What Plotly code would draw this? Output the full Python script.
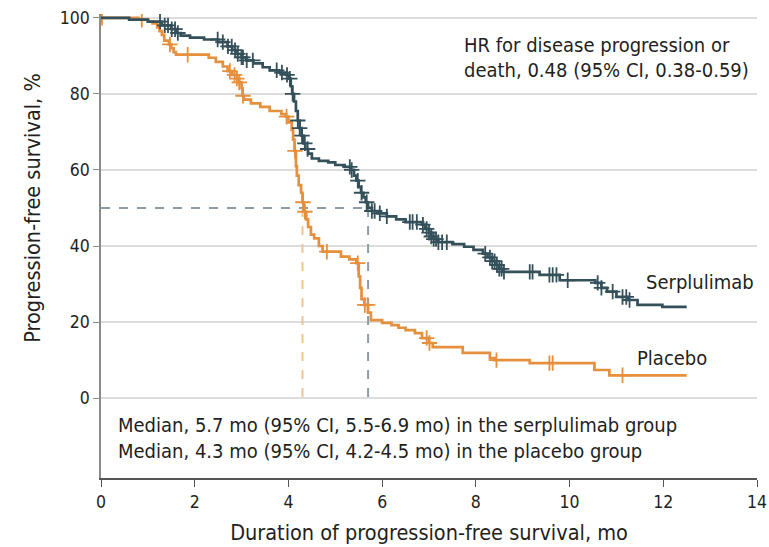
import numpy as np
import plotly.graph_objects as go

# Kaplan-Meier step points (time in months, progression-free survival in %)
serp_time = [0, 0.6, 1.0, 1.3, 1.5, 1.6, 1.7, 1.9, 2.2, 2.5, 2.7, 2.8, 2.9, 3.0, 3.1,
             3.25, 3.45, 3.6, 3.8, 3.95, 4.02, 4.05, 4.08, 4.12, 4.16, 4.2, 4.24, 4.28,
             4.32, 4.36, 4.42, 4.5, 4.65, 4.85, 5.0, 5.2, 5.33, 5.4, 5.45, 5.5, 5.55,
             5.6, 5.65, 5.7, 5.78, 5.9, 6.1, 6.3, 6.5, 6.85, 6.92, 7.0, 7.05, 7.1, 7.2,
             7.5, 7.75, 7.95, 8.15, 8.25, 8.35, 8.42, 8.5, 8.57, 9.36, 9.79, 10.55,
             10.68, 10.8, 11.0, 11.25, 11.45, 11.98, 12.5]
serp_surv = [100, 99.5, 99, 98, 97, 96, 95.3, 94.8, 94.3, 93.6, 92.5, 91.5, 90.5, 89.6, 88.8,
             88, 87, 86.2, 85.6, 85, 84, 82, 80, 78, 75.5, 73, 71, 69,
             67, 65.5, 64.3, 63, 62.4, 62, 61.3, 60.8, 60, 58.5, 57.2, 55.5, 54,
             52.8, 51.5, 50, 49.2, 48.6, 47.8, 47, 46.3, 45.6, 44.5, 43.5, 42.5, 41.8, 41,
             40.5, 39.8, 39, 38, 37, 36, 35, 34, 33.2, 32.4, 31, 30.3,
             29, 28, 26.6, 25.8, 24.5, 24, 24]

plac_time = [0, 0.8, 1.0, 1.1, 1.2, 1.25, 1.3, 1.35, 1.45, 1.5, 1.55, 1.6, 2.3, 2.45, 2.6,
             2.7, 2.8, 2.9, 2.95, 3.0, 3.02, 3.05, 3.2, 3.4, 3.6, 3.85, 3.95, 4.0, 4.07,
             4.1, 4.13, 4.16, 4.18, 4.22, 4.27, 4.3, 4.33, 4.38, 4.42, 4.48, 4.55, 4.65,
             4.73, 5.12, 5.3, 5.45, 5.5, 5.53, 5.56, 5.62, 5.7, 5.76, 6.0, 6.2, 6.35, 6.5,
             6.7, 6.85, 7.0, 7.08, 7.72, 8.3, 8.4, 9.15, 10.53, 10.85, 12.5]
plac_surv = [100, 99.5, 99, 98.5, 97.5, 96.5, 95.5, 94, 93, 92, 91, 90.3, 89.5, 88.4, 87.2,
             86, 85, 84, 83, 81.5, 79.5, 78.5, 77.5, 76.6, 75.5, 74.7, 74, 72.5, 70.5,
             68, 65, 61, 58.5, 56, 54, 51.5, 49, 47, 45, 43, 42, 40,
             38.5, 37.2, 36.5, 35.5, 32, 29, 26, 24.5, 22.5, 20.5, 19.8, 19.2, 18.5, 17.9,
             17.1, 15.8, 14.5, 13.4, 11.9, 10.5, 10, 9.2, 7.4, 6, 6]

# Censoring times
serp_censor = [1.26, 1.36, 1.43, 1.51, 1.58, 1.64, 2.49, 2.6, 2.71, 2.79, 2.86, 2.92, 3.0,
               3.03, 3.11, 3.24, 3.75, 3.86, 3.97, 4.03, 4.09, 4.2, 4.24, 4.29, 4.35, 4.41,
               5.31, 5.35, 5.48, 5.56, 5.67, 5.78, 5.84, 5.95, 6.1, 6.59, 6.65, 6.74, 6.87,
               6.95, 7.0, 7.05, 7.1, 7.15, 7.2, 7.28, 7.38, 8.2, 8.3, 8.35, 8.4, 8.45, 8.5,
               8.55, 8.6, 9.15, 9.21, 9.57, 9.64, 9.72, 9.96, 10.6, 10.68, 10.92, 11.13,
               11.21, 11.28]
plac_censor = [0.02, 0.87, 1.47, 1.85, 2.75, 2.85, 2.9, 2.95, 3.03, 3.96, 4.14, 4.31, 4.35,
               4.82, 5.48, 5.63, 5.69, 6.95, 7.01, 8.44, 9.57, 9.64, 11.13]

serp_median = 5.7
plac_median = 4.3

SERP_COLOR = "#34505A"
PLAC_COLOR = "#E68F3C"
FONT = "DejaVu Sans Condensed, Liberation Sans Narrow, Roboto, sans-serif"
TEXT_COLOR = "#231F20"


def surv_at(times, surv, t):
    idx = np.searchsorted(np.asarray(times), np.asarray(t), side="right") - 1
    return list(np.asarray(surv)[idx])


fig = go.Figure()

# median reference lines
fig.add_trace(go.Scatter(x=[0, serp_median], y=[50, 50], mode="lines",
                         line=dict(color="#8D9DA6", width=2, dash="dash"),
                         hoverinfo="skip", showlegend=False))
fig.add_trace(go.Scatter(x=[serp_median, serp_median], y=[50, 0], mode="lines",
                         line=dict(color="#8D9DA6", width=2, dash="dash"),
                         hoverinfo="skip", showlegend=False))
fig.add_trace(go.Scatter(x=[plac_median, plac_median], y=[50, 0], mode="lines",
                         line=dict(color="#F3C48F", width=2, dash="dash"),
                         hoverinfo="skip", showlegend=False))

for times, surv, cens, color, name in [
    (plac_time, plac_surv, plac_censor, PLAC_COLOR, "Placebo"),
    (serp_time, serp_surv, serp_censor, SERP_COLOR, "Serplulimab"),
]:
    fig.add_trace(go.Scatter(x=times, y=surv, mode="lines", line_shape="hv",
                             line=dict(color=color, width=2.7), name=name,
                             showlegend=False))
    fig.add_trace(go.Scatter(x=cens, y=surv_at(times, surv, cens), mode="markers",
                             marker=dict(symbol="cross-thin", size=11,
                                         line=dict(width=1.8, color=color)),
                             showlegend=False, hoverinfo="skip"))

annotations = [
    dict(x=7.7, y=92.9, text="HR for disease progression or", xanchor="left"),
    dict(x=7.7, y=86.3, text="death, 0.48 (95% CI, 0.38-0.59)", xanchor="left"),
    dict(x=0.32, y=-7.1, text="Median, 5.7 mo (95% CI, 5.5-6.9 mo) in the serplulimab group",
         xanchor="left"),
    dict(x=0.32, y=-13.9, text="Median, 4.3 mo (95% CI, 4.2-4.5 mo) in the placebo group",
         xanchor="left"),
    dict(x=11.59, y=30.5, text="Serplulimab", xanchor="left"),
    dict(x=11.4, y=10.5, text="Placebo", xanchor="left"),
]
for a in annotations:
    fig.add_annotation(xref="x", yref="y", showarrow=False, yanchor="middle",
                       font=dict(family=FONT, size=20, color=TEXT_COLOR), **a)

fig.add_annotation(xref="paper", yref="y", x=-0.104, y=50, text="Progression-free survival, %",
                   textangle=-90, showarrow=False, xanchor="center", yanchor="middle",
                   font=dict(family=FONT, size=21.5, color=TEXT_COLOR))

fig.update_layout(
    width=769, height=547,
    margin=dict(l=101, r=12, t=14, b=69, autoexpand=False),
    plot_bgcolor="white", paper_bgcolor="white",
    font=dict(family=FONT, color=TEXT_COLOR),
    xaxis=dict(range=[0, 14], tickvals=[0, 2, 4, 6, 8, 10, 12, 14], automargin=False,
               showgrid=False, zeroline=False, showline=True, linecolor="#555555",
               linewidth=1.5, ticks="outside", ticklen=7, tickcolor="#555555",
               tickfont=dict(size=17.5, family=FONT, color=TEXT_COLOR),
               title=dict(text="Duration of progression-free survival, mo",
                          font=dict(size=21.5, family=FONT, color=TEXT_COLOR), standoff=14)),
    yaxis=dict(range=[-21, 101], tickvals=[0, 20, 40, 60, 80, 100], automargin=False,
               showgrid=True, gridcolor="#DCDCDC", gridwidth=1.5, zeroline=False,
               showline=True, linecolor="#8A8A8A", linewidth=1.5,
               ticks="outside", ticklen=6, tickcolor="#8A8A8A",
               tickfont=dict(size=17.5, family=FONT, color=TEXT_COLOR)),
)

fig.write_html("out.html")
